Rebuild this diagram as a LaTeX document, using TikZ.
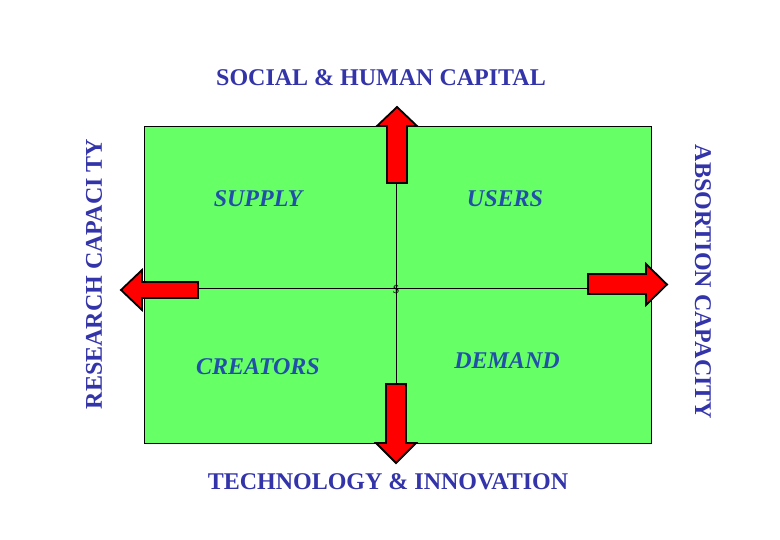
\documentclass[tikz,border=0pt]{standalone}
\usepackage{fontspec}
\setmainfont{Liberation Serif}
\definecolor{gfill}{HTML}{66FF66}
\definecolor{titleblue}{HTML}{3333AA}
\definecolor{quadblue}{HTML}{2250A8}
\begin{document}
\begin{tikzpicture}[x=1pt,y=-1pt,
  arrowshape/.style={fill=red,draw=black,line width=1.8pt,line join=miter},
  outer/.style={font=\fontsize{24}{26}\selectfont\bfseries,text=titleblue,inner sep=0pt},
  quad/.style={font=\fontsize{24}{26}\selectfont\bfseries\itshape,text=quadblue,inner sep=0pt},
  axis/.style={draw=black,line width=0.7pt}]
\useasboundingbox (0,0) rectangle (780,540);
% green field
\filldraw[fill=gfill,draw=black,line width=0.7pt] (144,126) rectangle (651,443);
\coordinate (vt) at (396,126);
\coordinate (vb) at (396,443);
\coordinate (hl) at (144,288);
\coordinate (hr) at (651,288);
\draw[axis] (vt) -- (vb);
\draw[axis] (hl) -- (hr);
% arrows
\draw[arrowshape] (387,183) -- (387,126) -- (377,126) -- (397,107) -- (417,126) -- (407,126) -- (407,183) -- cycle;
\draw[arrowshape] (386,384) -- (386,443) -- (376,443) -- (396,463) -- (416,443) -- (406,443) -- (406,384) -- cycle;
\draw[arrowshape] (198,282) -- (142,282) -- (142,270) -- (121,290) -- (142,310) -- (142,298) -- (198,298) -- cycle;
\draw[arrowshape] (588,274) -- (646,274) -- (646,264) -- (667,284.5) -- (646,305) -- (646,294) -- (588,294) -- cycle;
% texts
\node[outer] (title) at (381,78) {SOCIAL \& HUMAN CAPITAL};
\node[outer] (bottom) at (388,482) {TECHNOLOGY \& INNOVATION};
\node[outer,rotate=90] (left) at (94,274) {RESEARCH CAPACI TY};
\node[outer,rotate=-90] (right) at (703,282) {ABSORTION CAPACITY};
\node[quad] (supply) at (258,199) {SUPPLY};
\node[quad] (users) at (505,199) {USERS};
\node[quad] (creators) at (258,367) {CREATORS};
\node[quad] (demand) at (507,361) {DEMAND};
\node[font=\fontsize{12}{14}\selectfont,inner sep=0pt] (dollar) at (396,290) {\$};
\end{tikzpicture}
\end{document}
